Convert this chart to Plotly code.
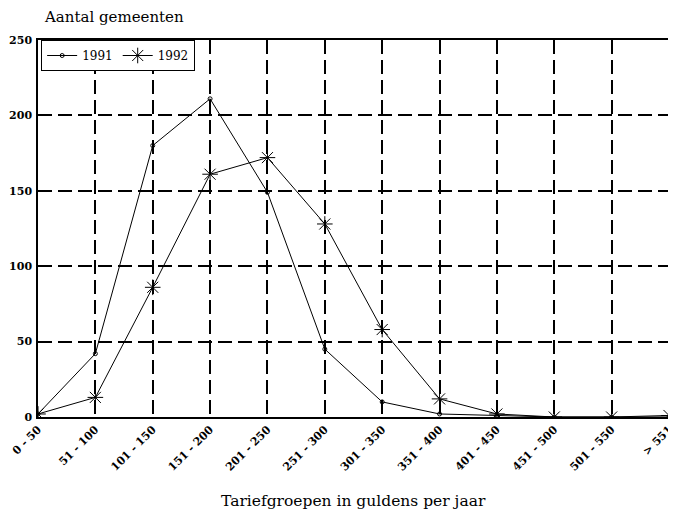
import plotly.graph_objects as go

categories = ["0 - 50", "51 - 100", "101 - 150", "151 - 200", "201 - 250", "251 - 300",
              "301 - 350", "351 - 400", "401 - 450", "451 - 500", "501 - 550", "> 551"]
values_1991 = [2, 42, 180, 211, 149, 45, 10, 2, 1, 0, 0, 0]
values_1992 = [2, 13, 86, 161, 172, 128, 58, 12, 2, 0, 0, 1]
y_ticks = [0, 50, 100, 150, 200, 250]

FONT = "DejaVu Serif"
DASH = "14px,6px"

fig = go.Figure()
fig.add_trace(go.Scatter(
    x=categories, y=values_1991, name="1991", mode="lines+markers",
    line=dict(color="black", width=1),
    marker=dict(symbol="circle-open", size=4, color="black", line=dict(width=1)),
))
fig.add_trace(go.Scatter(
    x=categories, y=values_1992, name="1992", mode="lines+markers",
    line=dict(color="black", width=1),
    marker=dict(symbol="asterisk-open", size=13, color="black", line=dict(width=1, color="black")),
))

fig.update_layout(
    width=668, height=506,
    margin=dict(l=29, r=1, t=32, b=97),
    paper_bgcolor="white", plot_bgcolor="white",
    font=dict(family=FONT, color="black", size=12),
    showlegend=True,
    legend=dict(
        orientation="h", x=0.005, y=1.0, xanchor="left", yanchor="top",
        bgcolor="white", bordercolor="black", borderwidth=1,
        font=dict(family=FONT, size=12, color="black"),
        itemwidth=30, tracegroupgap=0,
    ),
    xaxis=dict(
        type="category", range=[0, 11],
        showgrid=True, gridcolor="black", gridwidth=1.5, griddash=DASH,
        showline=True, linecolor="black", linewidth=1.5, mirror=True,
        tickangle=-45, ticks="", zeroline=False,
        tickfont=dict(family=FONT, size=11, color="black", weight="bold"),
    ),
    yaxis=dict(
        range=[0, 250], tickvals=y_ticks,
        showgrid=True, gridcolor="black", gridwidth=1.5, griddash=DASH,
        showline=True, linecolor="black", linewidth=1.5, mirror=True,
        ticks="", zeroline=False, ticklabelstandoff=2,
        tickfont=dict(family=FONT, size=11, color="black", weight="bold"),
    ),
    annotations=[
        dict(text="Aantal gemeenten", xref="paper", yref="paper",
             x=0, xshift=4, y=1.0, yshift=12, xanchor="left", yanchor="bottom",
             showarrow=False, font=dict(family=FONT, size=15, color="black")),
        dict(text="Tariefgroepen in guldens per jaar", xref="paper", yref="paper",
             x=0.5, y=0, yshift=-73, xanchor="center", yanchor="top",
             showarrow=False, font=dict(family=FONT, size=15.5, color="black")),
    ],
)

fig.write_html("out.html")
